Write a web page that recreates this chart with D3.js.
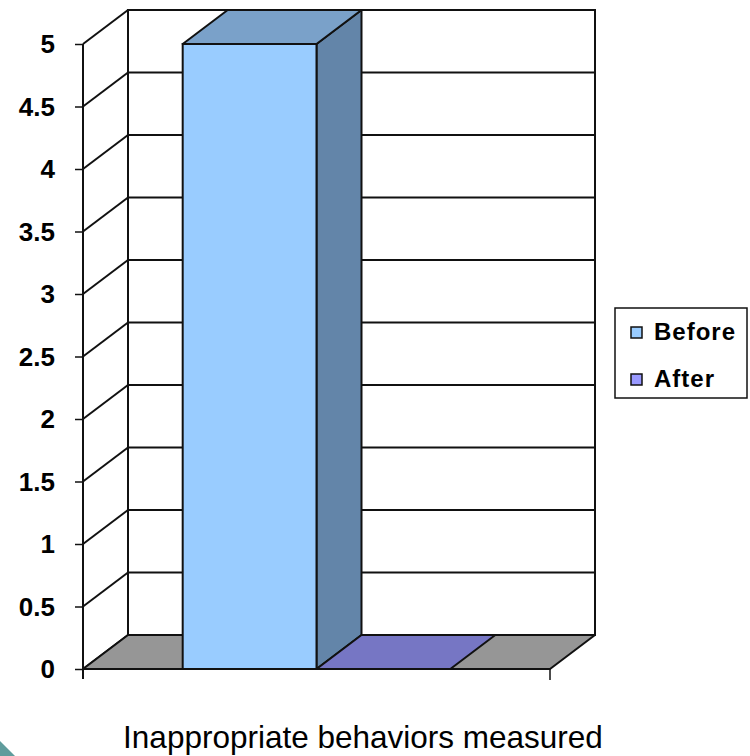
<!DOCTYPE html>
<html><head><meta charset="utf-8">
<script src="https://cdn.jsdelivr.net/npm/d3@7/dist/d3.min.js"></script>
<style>body{margin:0;background:#fff}svg{display:block}</style>
</head><body>
<svg id="c" width="750" height="756"></svg>
<script>
const categories = ["Inappropriate behaviors measured"];
const seriesNames = ["Before", "After"];
const seriesValues = [5, 0];
const yTicks = [0, 0.5, 1, 1.5, 2, 2.5, 3, 3.5, 4, 4.5, 5];
const frontColors = ["#99CCFF", "#7676C4"];
const sideColors = ["#6385A9", "#5A5A9E"];
const topColors = ["#7AA1C9", "#7676C4"];
const legendColors = ["#99CCFF", "#9999FF"];

const svg = d3.select("#c");
const x0 = 83, x1 = 550, yTop = 44, yBot = 669;
const dx = 45, dy = -34;
const y = d3.scaleLinear().domain([0, 5]).range([yBot, yTop]);
const xb = d3.scaleBand().domain(seriesNames).range([x0, x1]).paddingInner(0).paddingOuter(0.745);
const stroke = "#111", sw = 2;

// back wall
svg.append("rect").attr("x", x0 + dx).attr("y", y(5) + dy).attr("width", x1 - x0).attr("height", y(0) - y(5))
  .attr("fill", "#fff").attr("stroke", stroke).attr("stroke-width", sw);
// side wall gridlines + back gridlines
yTicks.forEach(t => {
  const yy = y(t);
  if (t > 0) {
    svg.append("line").attr("x1", x0 + dx).attr("x2", x1 + dx).attr("y1", yy + dy).attr("y2", yy + dy)
      .attr("stroke", stroke).attr("stroke-width", sw);
  }
  svg.append("line").attr("x1", x0).attr("y1", yy).attr("x2", x0 + dx).attr("y2", yy + dy)
    .attr("stroke", stroke).attr("stroke-width", sw);
});
// side wall back edge
svg.append("line").attr("x1", x0 + dx).attr("x2", x0 + dx).attr("y1", y(5) + dy).attr("y2", y(0) + dy)
  .attr("stroke", stroke).attr("stroke-width", sw);
// floor
svg.append("polygon").attr("points", [[x0, yBot], [x1, yBot], [x1 + dx, yBot + dy], [x0 + dx, yBot + dy]].join(" "))
  .attr("fill", "#969696").attr("stroke", stroke).attr("stroke-width", sw).attr("stroke-linejoin", "round");

// bars
seriesNames.forEach((s, i) => {
  const v = seriesValues[i];
  const bx = xb(s), bw = xb.bandwidth();
  const yt = y(v);
  const g = svg.append("g");
  if (v > 0) {
    g.append("polygon").attr("points", [[bx + bw, yt], [bx + bw + dx, yt + dy], [bx + bw + dx, yBot + dy], [bx + bw, yBot]].join(" "))
      .attr("fill", sideColors[i]).attr("stroke", stroke).attr("stroke-width", sw).attr("stroke-linejoin", "round");
    g.append("rect").attr("x", bx).attr("y", yt).attr("width", bw).attr("height", yBot - yt)
      .attr("fill", frontColors[i]).attr("stroke", stroke).attr("stroke-width", sw);
  }
  g.append("polygon").attr("points", [[bx, yt], [bx + bw, yt], [bx + bw + dx, yt + dy], [bx + dx, yt + dy]].join(" "))
    .attr("fill", topColors[i]).attr("stroke", stroke).attr("stroke-width", sw).attr("stroke-linejoin", "round");
});

// front axes
svg.append("line").attr("x1", x0).attr("x2", x0).attr("y1", yTop).attr("y2", yBot + 10).attr("stroke", stroke).attr("stroke-width", sw);
svg.append("line").attr("x1", x0).attr("x2", x1).attr("y1", yBot).attr("y2", yBot).attr("stroke", stroke).attr("stroke-width", sw);
svg.append("line").attr("x1", x1).attr("x2", x1).attr("y1", yBot).attr("y2", yBot + 11).attr("stroke", stroke).attr("stroke-width", 1.5);

const yAxis = d3.axisLeft(y).tickValues(yTicks).tickSize(8).tickPadding(20).tickFormat(d3.format("~g"));
const ga = svg.append("g").attr("transform", `translate(${x0},0)`).call(yAxis);
ga.select(".domain").remove();
ga.selectAll(".tick line").attr("stroke", stroke).attr("stroke-width", 1.5);
ga.selectAll(".tick text").attr("fill", "#000").style("font-family", "Liberation Sans, Arial, sans-serif")
  .style("font-size", "26px").style("font-weight", "bold").attr("dy", "0.34em");

// x label
svg.append("text").attr("x", 363).attr("y", 748).attr("text-anchor", "middle")
  .style("font-family", "Liberation Sans, Arial, sans-serif").style("font-size", "31.5px").attr("fill", "#000")
  .text(categories[0]);

// legend
const lg = svg.append("g");
lg.append("rect").attr("x", 615).attr("y", 308).attr("width", 132).attr("height", 90)
  .attr("fill", "#fff").attr("stroke", stroke).attr("stroke-width", 1.5);
seriesNames.forEach((s, i) => {
  const cy = 332 + i * 47;
  lg.append("rect").attr("x", 631).attr("y", cy - 5).attr("width", 11).attr("height", 11)
    .attr("fill", legendColors[i]).attr("stroke", stroke).attr("stroke-width", 1.5);
  lg.append("text").attr("x", 654).attr("y", cy + 8)
    .style("font-family", "Liberation Sans, Arial, sans-serif").style("font-size", "24px").style("font-weight", "bold")
    .style("letter-spacing", "1px").attr("fill", "#000").text(s);
});

// slide decoration
svg.append("polygon").attr("points", "0,741 15,756 0,756").attr("fill", "#5F9C9C");
</script>
</body></html>
